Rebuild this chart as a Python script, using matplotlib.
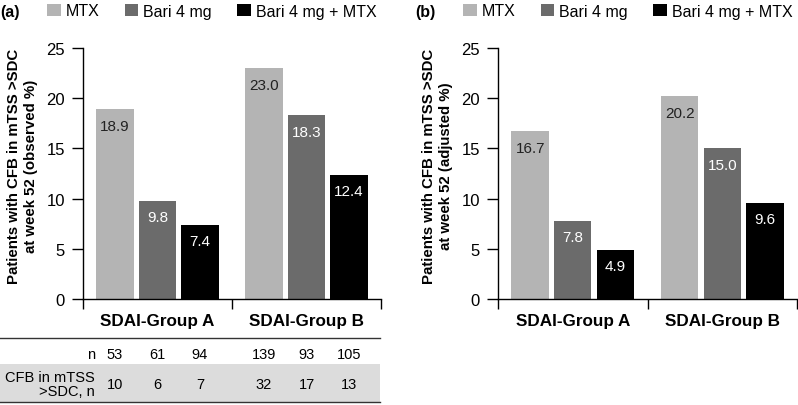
import matplotlib
matplotlib.use("Agg")
import matplotlib.pyplot as plt
from matplotlib.patches import Rectangle
from matplotlib.lines import Line2D
from matplotlib.transforms import blended_transform_factory

plt.rcParams["font.family"] = ["Liberation Sans", "DejaVu Sans"]

groups = ["SDAI-Group A", "SDAI-Group B"]
treatments = ["MTX", "Bari 4 mg", "Bari 4 mg + MTX"]
colors = ["#b4b4b4", "#6b6b6b", "#000000"]
label_colors = ["#222222", "white", "white"]

# percentages per treatment, one value per group
observed_mtx = [18.9, 23.0]
observed_bari = [9.8, 18.3]
observed_combo = [7.4, 12.4]

adjusted_mtx = [16.7, 20.2]
adjusted_bari = [7.8, 15.0]
adjusted_combo = [4.9, 9.6]

# table under panel (a)
n_mtx = [53, 139]
n_bari = [61, 93]
n_combo = [94, 105]
cfb_mtx = [10, 32]
cfb_bari = [6, 17]
cfb_combo = [7, 13]

observed = [observed_mtx, observed_bari, observed_combo]
adjusted = [adjusted_mtx, adjusted_bari, adjusted_combo]
n_rows = [n_mtx, n_bari, n_combo]
cfb_rows = [cfb_mtx, cfb_bari, cfb_combo]

W, H = 798, 406
fig = plt.figure(figsize=(W / 100, H / 100), dpi=100)

offsets = [-0.285, 0.0, 0.285]
width = 0.25
xpos = list(range(len(groups)))


def fx(px):
    return px / W


def fy(py):
    return 1 - py / H


def draw_panel(ax, series, ylabel):
    bars_all = []
    for k, vals in enumerate(series):
        xs = [x + offsets[k] for x in xpos]
        bars = ax.bar(xs, vals, width=width, color=colors[k], label=treatments[k])
        bars_all.append(bars)
        for b, v in zip(bars, vals):
            ax.annotate(f"{v:.1f}", (b.get_x() + b.get_width() / 2, v),
                        xytext=(0, -12), textcoords="offset points",
                        ha="center", va="center", fontsize=11,
                        color=label_colors[k])
    ax.set_xlim(-0.5, 1.5)
    ax.set_ylim(0, 25)
    ax.set_yticks([0, 5, 10, 15, 20, 25])
    ax.set_xticks(xpos)
    ax.set_xticklabels(groups, fontsize=12.3, fontweight="bold")
    ax.set_xticks([-0.5, 0.5, 1.5], minor=True)
    ax.tick_params(axis="x", which="major", length=0, pad=10)
    ax.tick_params(axis="x", which="minor", length=7.5, width=1.0, direction="out")
    ax.tick_params(axis="y", length=8, width=1.0, pad=5, labelsize=12)
    for s in ["top", "right"]:
        ax.spines[s].set_visible(False)
    for s in ["left", "bottom"]:
        ax.spines[s].set_linewidth(1.0)
    ax.set_ylabel(ylabel, fontsize=10.8, fontweight="bold", linespacing=1.25)
    ax.yaxis.set_label_coords(-0.152, 0.534)
    return bars_all


ax1 = fig.add_axes([fx(83), fy(300), fx(298), (300 - 49) / H])
ax2 = fig.add_axes([fx(498), fy(300), fx(299), (300 - 49) / H])

b1 = draw_panel(ax1, observed, "Patients with CFB in mTSS >SDC\nat week 52 (observed %)")
b2 = draw_panel(ax2, adjusted, "Patients with CFB in mTSS >SDC\nat week 52 (adjusted %)")

# panel letters and legends
fig.text(fx(0), fy(12), "(a)", fontsize=11.5, fontweight="bold", ha="left", va="center")
fig.text(fx(415), fy(12), "(b)", fontsize=11.5, fontweight="bold", ha="left", va="center")
for bars, x0 in [(b1, 47), (b2, 463)]:
    fig.legend(handles=[b[0] for b in bars], labels=treatments, loc="center left",
               bbox_to_anchor=(fx(x0), fy(12)), ncol=3, frameon=False,
               fontsize=11.5, handlelength=0.85, handleheight=0.85,
               handletextpad=0.3, columnspacing=1.6, borderpad=0,
               borderaxespad=0)

# table under panel (a)
fig.add_artist(Rectangle((0, fy(403)), fx(380), (403 - 365) / H,
                         transform=fig.transFigure, facecolor="#dcdcdc",
                         edgecolor="none", zorder=0))
for py in [339, 403]:
    fig.add_artist(Line2D([0, fx(380)], [fy(py), fy(py)], transform=fig.transFigure,
                          color="#333333", linewidth=1.0))

trans = blended_transform_factory(ax1.transData, ax1.transAxes)
y_n = (300 - 355) / 251
y_cfb = (300 - 385) / 251
label_x = -0.5 + (95 - 83) / 150
ax1.text(label_x, y_n, "n", transform=trans, ha="right", va="center", fontsize=10.5,
         clip_on=False)
ax1.text(label_x, y_cfb, "CFB in mTSS\n>SDC, n", transform=trans, ha="right",
         va="center", fontsize=10.5, multialignment="right", linespacing=1.0,
         clip_on=False)
for k in range(len(treatments)):
    for g in xpos:
        x = g + offsets[k]
        ax1.text(x, y_n, str(n_rows[k][g]), transform=trans, ha="center",
                 va="center", fontsize=10.5, clip_on=False)
        ax1.text(x, y_cfb, str(cfb_rows[k][g]), transform=trans, ha="center",
                 va="center", fontsize=10.5, clip_on=False)

fig.savefig("out.png", dpi=100)
